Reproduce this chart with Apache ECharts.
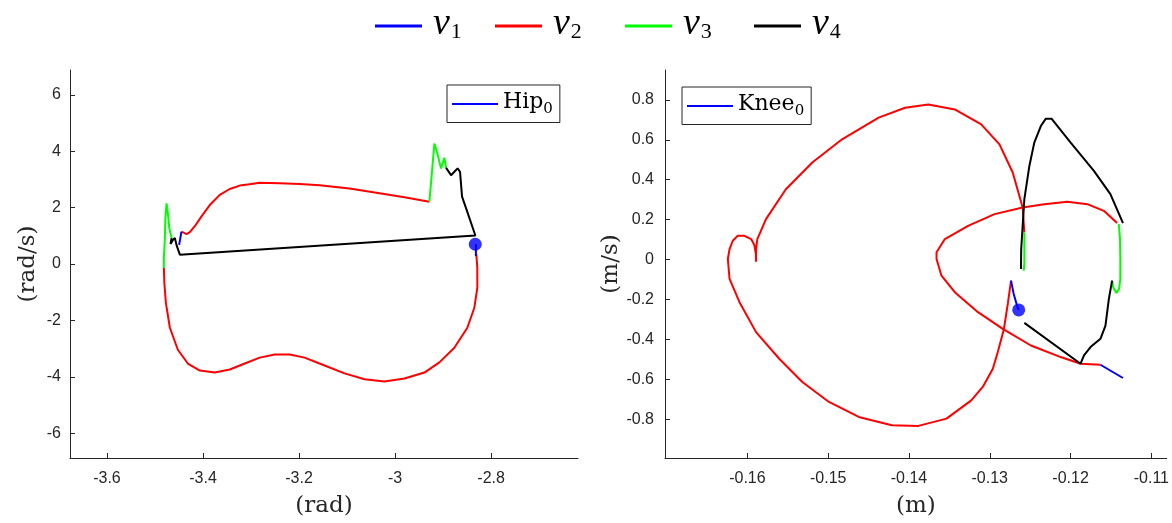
<!DOCTYPE html>
<html><head><meta charset="utf-8">
<script src="https://cdn.jsdelivr.net/npm/echarts@6/dist/echarts.min.js"></script>
<style>html,body{margin:0;padding:0;background:#fff}#c{width:1172px;height:523px}</style>
</head><body><div id="c"></div>
<script>
// ---------- tick labels ----------
const hipXTicks = [-3.6, -3.4, -3.2, -3, -2.8];
const hipYTicks = [-6, -4, -2, 0, 2, 4, 6];
const kneeXTicks = [-0.16, -0.15, -0.14, -0.13, -0.12, -0.11];
const kneeYTicks = [-0.8, -0.6, -0.4, -0.2, 0, 0.2, 0.4, 0.6, 0.8];
const legendNames = ['v1', 'v2', 'v3', 'v4'];

// ---------- Hip (left) : [angle rad, velocity rad/s] ----------
const hipDot = [[-2.833, 0.70]];
const hipBlueA = [[-2.8316, 0.70], [-2.8316, 0.28]];
const hipBlueB = [[-3.4497, 0.68], [-3.4449, 1.15]];
const hipRedLower = [[-2.8308, 0.35], [-2.8287, -0.14], [-2.8287, -0.85], [-2.8349, -1.55], [-2.8495, -2.26],
  [-2.8765, -2.97], [-2.9077, -3.49], [-2.9389, -3.85], [-2.9805, -4.06], [-3.0220, -4.17], [-3.0636, -4.09],
  [-3.1052, -3.88], [-3.1468, -3.60], [-3.1884, -3.32], [-3.2195, -3.21], [-3.2507, -3.21], [-3.2819, -3.32],
  [-3.3131, -3.53], [-3.3443, -3.74], [-3.3755, -3.85], [-3.4067, -3.78], [-3.4316, -3.53], [-3.4524, -3.04],
  [-3.4690, -2.26], [-3.4773, -1.38], [-3.4805, -0.67], [-3.4815, -0.14]];
const hipRedUpper = [[-3.4447, 1.15], [-3.4414, 1.09], [-3.4343, 1.06], [-3.4274, 1.13], [-3.4171, 1.34],
  [-3.4031, 1.69], [-3.3859, 2.09], [-3.3651, 2.45], [-3.3443, 2.66], [-3.3235, 2.78], [-3.3027, 2.83],
  [-3.2819, 2.88], [-3.2403, 2.86], [-3.1988, 2.84], [-3.1572, 2.79], [-3.0948, 2.68], [-3.0324, 2.51],
  [-2.9805, 2.37], [-2.9285, 2.21]];
const hipGreenA = [[-3.4815, -0.14], [-3.4815, 0.21], [-3.4794, 0.92], [-3.4784, 1.62], [-3.4759, 2.15],
  [-3.4732, 1.80], [-3.4701, 1.27], [-3.4655, 0.92]];
const hipGreenB = [[-2.9285, 2.21], [-2.9243, 3.04], [-2.9181, 4.27], [-2.9119, 3.92], [-2.9042, 3.39],
  [-2.8973, 3.77], [-2.8938, 3.41]];
const hipBlack = [[-2.8938, 3.41], [-2.8834, 3.15], [-2.8765, 3.27], [-2.8697, 3.39], [-2.8647, 3.27],
  [-2.8605, 2.39], [-2.8522, 1.98], [-2.8328, 1.01], [-3.4482, 0.33], [-3.4551, 0.67], [-3.4586, 0.92],
  [-3.4628, 0.85], [-3.4676, 0.71], [-3.4655, 0.92]];

// ---------- Knee (right) : [position m, velocity m/s] ----------
const kneeDot = [[-0.12642, -0.2525]];
const kneeBlueA = [[-0.12642, -0.2525], [-0.12663, -0.231], [-0.12704, -0.1725], [-0.12737, -0.106]];
const kneeBlueB = [[-0.11630, -0.5275], [-0.11351, -0.594]];
const kneeRedA = [[-0.12737, -0.106], [-0.12777, -0.2225], [-0.12827, -0.3525], [-0.12900, -0.4625],
  [-0.12962, -0.5475], [-0.13085, -0.6375], [-0.13229, -0.706], [-0.13536, -0.7975], [-0.13884, -0.834],
  [-0.14213, -0.831], [-0.14622, -0.789], [-0.14991, -0.714], [-0.15320, -0.614], [-0.15606, -0.4975],
  [-0.15893, -0.364], [-0.16098, -0.214], [-0.16221, -0.0975], [-0.16242, 0.0025], [-0.16221, 0.0525],
  [-0.16181, 0.094], [-0.16119, 0.119], [-0.16037, 0.119], [-0.15954, 0.1025], [-0.15914, 0.0725],
  [-0.15895, 0.0275], [-0.15893, -0.011], [-0.15893, 0.0525], [-0.15877, 0.1025], [-0.15770, 0.2025],
  [-0.15524, 0.3525], [-0.15197, 0.486], [-0.14828, 0.6025], [-0.14376, 0.711], [-0.14048, 0.761],
  [-0.13761, 0.7775], [-0.13433, 0.7525], [-0.13106, 0.6775], [-0.12880, 0.5775], [-0.12716, 0.436],
  [-0.12593, 0.261], [-0.12572, 0.136]];
const kneeRedB = [[-0.11424, 0.1825], [-0.11588, 0.244], [-0.11793, 0.2775], [-0.12039, 0.289],
  [-0.12326, 0.2775], [-0.12593, 0.261], [-0.12941, 0.2275], [-0.13269, 0.169], [-0.13556, 0.1025],
  [-0.13659, 0.036], [-0.13659, 0.0025], [-0.13598, -0.081], [-0.13433, -0.164], [-0.13146, -0.264],
  [-0.12839, -0.3475], [-0.12491, -0.431], [-0.12122, -0.489], [-0.11876, -0.5225], [-0.11630, -0.5275]];
const kneeGreenA = [[-0.12572, 0.136], [-0.12572, 0.05], [-0.12572, -0.02], [-0.12580, -0.056]];
const kneeGreenB = [[-0.11403, 0.1775], [-0.11388, 0.1025], [-0.11384, 0.0025], [-0.11384, -0.0975],
  [-0.11400, -0.1475], [-0.11433, -0.1675], [-0.11474, -0.1375], [-0.11486, -0.106]];
const kneeBlackA = [[-0.12614, -0.0475], [-0.12611, 0.0525], [-0.12593, 0.169], [-0.12572, 0.3025],
  [-0.12510, 0.469], [-0.12449, 0.586], [-0.12368, 0.669], [-0.12306, 0.706], [-0.12236, 0.706],
  [-0.11999, 0.586], [-0.11711, 0.444], [-0.11507, 0.3275], [-0.11351, 0.1825]];
const kneeBlackB = [[-0.11486, -0.106], [-0.11526, -0.1975], [-0.11568, -0.331], [-0.11630, -0.3975],
  [-0.11753, -0.439], [-0.11834, -0.481], [-0.11876, -0.5225], [-0.12572, -0.3175]];

const COLORS = { v1: '#0000ff', v2: '#ff0000', v3: '#00ff00', v4: '#000000' };
const AX = '#262626';

function ln(name, data, idx) {
  return { type: 'line', name, data, xAxisIndex: idx, yAxisIndex: idx, showSymbol: false, symbol: 'none',
    lineStyle: { color: COLORS[name], width: 2 }, itemStyle: { color: COLORS[name] }, silent: true, animation: false };
}
function dot(data, idx) {
  return { type: 'scatter', name: 'v1', data, xAxisIndex: idx, yAxisIndex: idx, symbolSize: 13,
    itemStyle: { color: COLORS.v1 }, silent: true, animation: false, z: 5 };
}
function fmt(v) { return String(+(+v).toFixed(3)); }
function axis(grid, min, max, ticks, name, gap, margin) {
  return { type: 'value', gridIndex: grid, min, max,
    axisLine: { show: true, onZero: false, lineStyle: { color: AX, width: 1 } },
    axisTick: { show: true, inside: true, length: 5, customValues: ticks, lineStyle: { color: AX } },
    axisLabel: { customValues: ticks, formatter: fmt, color: AX, fontSize: 16, fontFamily: 'Liberation Sans', margin },
    splitLine: { show: false },
    name, nameLocation: 'middle', nameGap: gap,
    nameTextStyle: { fontFamily: 'DejaVu Serif', fontSize: 23, color: AX } };
}

const chart = echarts.init(document.getElementById('c'), null, { renderer: 'canvas' });
const subRich = {
  v: { fontFamily: 'Liberation Serif', fontStyle: 'italic', fontSize: 38, color: '#000', padding: [0, 1, 4, 6] },
  s: { fontFamily: 'Liberation Serif', fontSize: 22, color: '#000', padding: [12, 0, 0, 0] }
};
const boxRich = {
  t: { fontFamily: 'DejaVu Serif', fontSize: 22, color: '#000', padding: [0, 0, 4, 0] },
  s: { fontFamily: 'DejaVu Serif', fontSize: 15, color: '#000', padding: [10, 0, 0, 0] }
};
const legendLefts = [370, 490, 620, 749];
const topLegends = legendNames.map((n, i) => ({
  data: [n], left: legendLefts[i], top: 0, icon: 'rect', itemWidth: 47, itemHeight: 3,
  selectedMode: false, formatter: nm => '{v|v}{s|' + nm.slice(1) + '}', textStyle: { rich: subRich }
}));
chart.setOption({
  animation: false,
  backgroundColor: '#fff',
  grid: [
    { left: 70, right: 594, top: 70, bottom: 63 },
    { left: 665, right: 2, top: 70, bottom: 63 }
  ],
  legend: topLegends.concat([
    { data: ['Hip0'], left: 447, top: 85, icon: 'rect', itemWidth: 46, itemHeight: 2, selectedMode: false,
      borderColor: AX, borderWidth: 1, padding: [6, 7, 6, 5], backgroundColor: '#fff',
      formatter: () => '{t|Hip}{s|0}', textStyle: { rich: boxRich } },
    { data: ['Knee0'], left: 682, top: 87, icon: 'rect', itemWidth: 46, itemHeight: 2, selectedMode: false,
      borderColor: AX, borderWidth: 1, padding: [6, 7, 6, 5], backgroundColor: '#fff',
      formatter: () => '{t|Knee}{s|0}', textStyle: { rich: boxRich } }
  ]),
  xAxis: [
    axis(0, -3.677, -2.619, hipXTicks, '(rad)', 37, 13),
    axis(1, -0.1702, -0.1081, kneeXTicks, '(m)', 37, 13)
  ],
  yAxis: [
    axis(0, -6.88, 6.88, hipYTicks, '(rad/s)', 30, 9),
    axis(1, -0.995, 0.95, kneeYTicks, '(m/s)', 42, 11)
  ],
  series: [
    ln('v2', hipRedLower, 0), ln('v2', hipRedUpper, 0),
    ln('v1', hipBlueA, 0), ln('v1', hipBlueB, 0),
    ln('v3', hipGreenA, 0), ln('v3', hipGreenB, 0),
    ln('v4', hipBlack, 0), dot(hipDot, 0),
    { type: 'line', name: 'Hip0', data: [], xAxisIndex: 0, yAxisIndex: 0, lineStyle: { color: '#0000ff' }, itemStyle: { color: '#0000ff' } },
    ln('v2', kneeRedA, 1), ln('v2', kneeRedB, 1),
    ln('v1', kneeBlueA, 1), ln('v1', kneeBlueB, 1),
    ln('v3', kneeGreenA, 1), ln('v3', kneeGreenB, 1),
    ln('v4', kneeBlackA, 1), ln('v4', kneeBlackB, 1), dot(kneeDot, 1),
    { type: 'line', name: 'Knee0', data: [], xAxisIndex: 1, yAxisIndex: 1, lineStyle: { color: '#0000ff' }, itemStyle: { color: '#0000ff' } }
  ]
});
</script></body></html>
